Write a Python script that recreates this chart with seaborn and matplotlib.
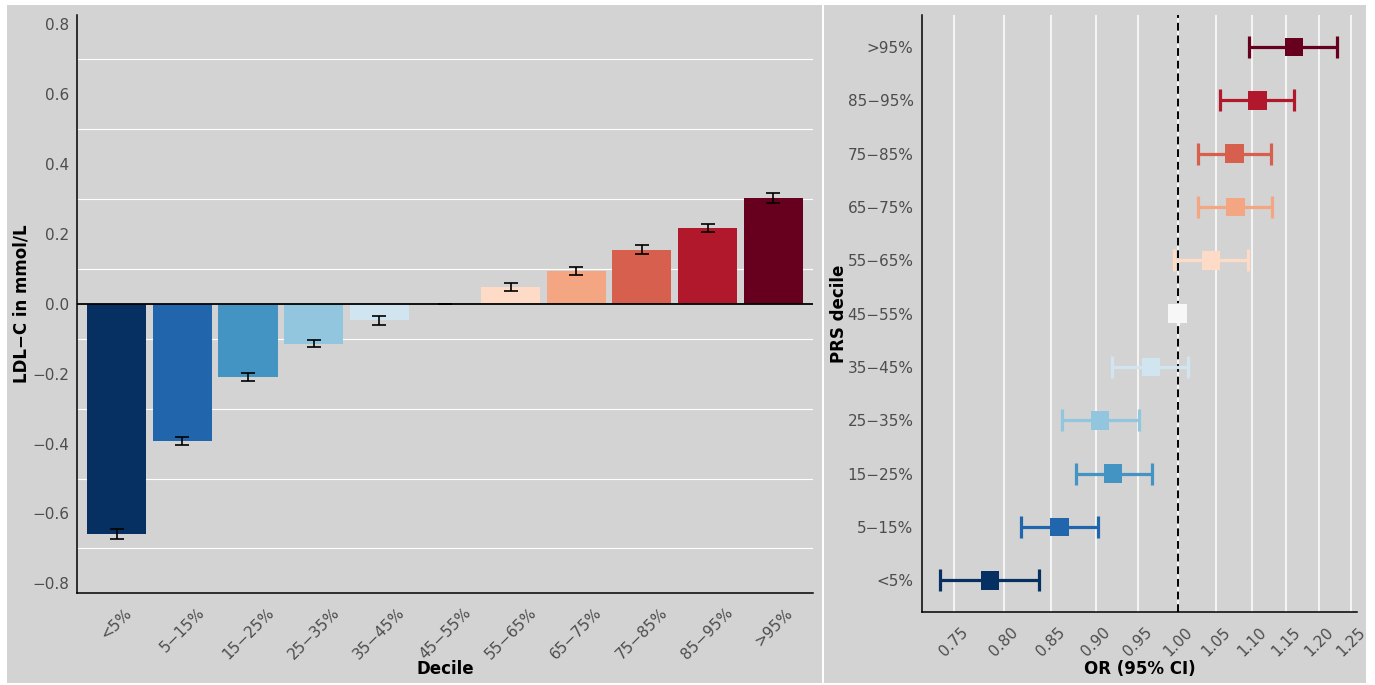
import numpy as np
import matplotlib
matplotlib.use('Agg')
import matplotlib.pyplot as plt
import matplotlib.ticker as mticker
from matplotlib.patches import Rectangle
import seaborn as sns

# ── Data ───────────────────────────────────────────────────────────────────────
deciles = ['<5%', '5\u221215%', '15\u221225%', '25\u221235%', '35\u221245%', '45\u221255%',
           '55\u221265%', '65\u221275%', '75\u221285%', '85\u221295%', '>95%']

# left panel: LDL-C difference per PRS decile (mean and SE)
ldl_mean = [-0.658, -0.392, -0.210, -0.114, -0.047, 0.0, 0.047, 0.093, 0.155, 0.217, 0.303]
ldl_se = [0.014, 0.012, 0.011, 0.009, 0.013, 0.0, 0.012, 0.012, 0.012, 0.012, 0.014]
ldl_ticks = [-0.8, -0.6, -0.4, -0.2, 0.0, 0.2, 0.4, 0.6, 0.8]
ldl_minor = [-0.7, -0.5, -0.3, -0.1, 0.1, 0.3, 0.5, 0.7]

# right panel: odds ratio with 95% CI
or_est = [0.786, 0.859, 0.920, 0.905, 0.966, 1.0, 1.044, 1.077, 1.076, 1.108, 1.161]
or_lo = [0.737, 0.818, 0.877, 0.862, 0.919, 1.0, 0.995, 1.026, 1.026, 1.056, 1.096]
or_hi = [0.837, 0.903, 0.967, 0.951, 1.013, 1.0, 1.095, 1.129, 1.128, 1.161, 1.228]
or_ticks = [0.75, 0.80, 0.85, 0.90, 0.95, 1.00, 1.05, 1.10, 1.15, 1.20, 1.25]

COLORS = ['#053061', '#2166ac', '#4393c3', '#92c5de', '#d1e5f0', '#f7f7f7',
          '#fddbc7', '#f4a582', '#d6604d', '#b2182b', '#67001f']
BG = '#d3d3d3'
TICK_C = '#4d4d4d'

sns.set_style('white')
plt.rcParams['font.family'] = ['DejaVu Sans']

fig = plt.figure(figsize=(13.75, 6.85), dpi=100)
fig.patch.set_facecolor('white')
fig.add_artist(Rectangle((0.0049, 0.0029), 0.593, 0.9898, transform=fig.transFigure,
                         facecolor=BG, edgecolor='none', zorder=-1))
fig.add_artist(Rectangle((0.5993, 0.0029), 0.3942, 0.9898, transform=fig.transFigure,
                         facecolor=BG, edgecolor='none', zorder=-1))

ax1 = fig.add_axes([0.0562, 0.1347, 0.5348, 0.8434])
ax2 = fig.add_axes([0.6705, 0.1061, 0.3166, 0.8720])


def style_axes(ax):
    ax.set_facecolor(BG)
    for s in ['top', 'right']:
        ax.spines[s].set_visible(False)
    for s in ['left', 'bottom']:
        ax.spines[s].set_color('black')
        ax.spines[s].set_linewidth(1.1)
    ax.tick_params(axis='both', which='major', length=3, width=0.8, color='#333333',
                   labelcolor=TICK_C, labelsize=11)
    ax.tick_params(axis='y', pad=3)
    ax.tick_params(axis='x', pad=6)


# ── Left: bar chart ────────────────────────────────────────────────────────────
style_axes(ax1)
sns.barplot(x=deciles, y=ldl_mean, hue=deciles, palette=COLORS, legend=False,
            width=0.9, saturation=1, linewidth=0, ax=ax1, zorder=2)
ax1.errorbar(x=deciles, y=ldl_mean, yerr=ldl_se, fmt='none', ecolor='black',
             elinewidth=1.2, capsize=4.8, capthick=1.2, zorder=4)
ax1.axhline(0, color='black', linewidth=1.3, zorder=3)
ax1.set_xlim(-0.6, 10.6)
ax1.set_ylim(-0.8266, 0.8257)
ax1.set_yticks(ldl_ticks)
ax1.set_yticklabels([f'{t:.1f}'.replace('-', '\u2212') for t in ldl_ticks])
ax1.set_yticks(ldl_minor, minor=True)
ax1.tick_params(axis='y', which='minor', length=0)
ax1.grid(False)
ax1.yaxis.grid(True, which='minor', color='white', linewidth=0.8, zorder=0)
ax1.set_axisbelow(True)
plt.setp(ax1.get_xticklabels(), rotation=45, ha='center', va='top')
ax1.set_xlabel('Decile', fontsize=12, fontweight='bold', color='black')
ax1.set_ylabel('LDL\u2212C in mmol/L', fontsize=12, fontweight='bold', color='black')
ax1.xaxis.set_label_coords(0.5, -0.1165)
ax1.yaxis.set_label_coords(-0.063, 0.5)

# ── Right: forest plot ─────────────────────────────────────────────────────────
style_axes(ax2)
ax2.set_xscale('log')
err_lo = np.array(or_est) - np.array(or_lo)
err_hi = np.array(or_hi) - np.array(or_est)
for i, d in enumerate(deciles):
    ax2.errorbar(x=[or_est[i]], y=[d], xerr=[[err_lo[i]], [err_hi[i]]], fmt='none',
                 ecolor=COLORS[i], elinewidth=2.3, capsize=7.8, capthick=2.3, zorder=3)
ax2.axvline(1.0, color='black', linewidth=1.4, linestyle=(0, (4, 2.5)), zorder=2)
sns.scatterplot(x=or_est, y=deciles, hue=deciles, palette=COLORS, marker='s', s=175,
                linewidth=0, legend=False, ax=ax2, zorder=4)
ax2.set_xlim(0.7199, 1.2597)
ax2.set_ylim(-0.6, 10.6)
ax2.set_xticks(or_ticks)
ax2.set_xticklabels([f'{t:.2f}' for t in or_ticks])
ax2.xaxis.set_minor_locator(mticker.NullLocator())
ax2.grid(False)
ax2.xaxis.grid(True, which='major', color='white', linewidth=1.1, zorder=0)
ax2.set_axisbelow(True)
plt.setp(ax2.get_xticklabels(), rotation=45, ha='center', va='top')
ax2.set_xlabel('OR (95% CI)', fontsize=12, fontweight='bold', color='black')
ax2.set_ylabel('PRS decile', fontsize=12, fontweight='bold', color='black')
ax2.xaxis.set_label_coords(0.5, -0.080)
ax2.yaxis.set_label_coords(-0.17, 0.5)

fig.savefig('out.png', dpi=100, facecolor='white')
